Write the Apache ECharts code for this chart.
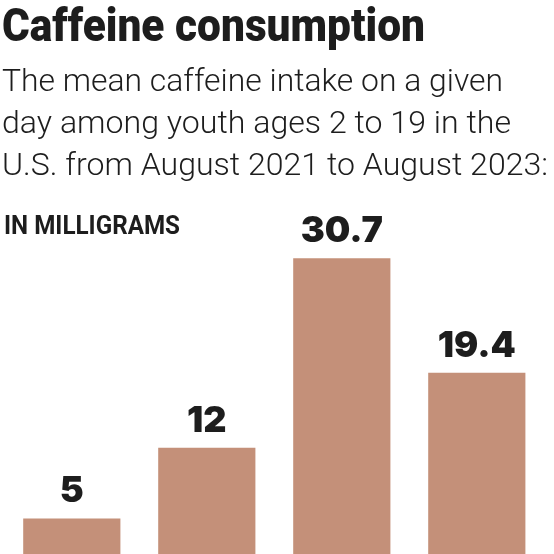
<!DOCTYPE html>
<html>
<head>
<meta charset="utf-8">
<script src="https://cdn.jsdelivr.net/npm/echarts@6/dist/echarts.min.js"></script>
<style>
  html, body { margin: 0; padding: 0; background: #fff; }
  #main { width: 554px; height: 554px; }
</style>
</head>
<body>
<div id="main"></div>
<script>
var titleText = 'Caffeine consumption';
var subtitleLines = [
  'The mean caffeine intake on a given',
  'day among youth ages 2 to 19 in the',
  'U.S. from August 2021 to August 2023:'
];
var unitText = 'IN MILLIGRAMS';
var categories = ['Group 1', 'Group 2', 'Group 3', 'Group 4'];
var intake = [5, 12, 30.7, 19.4];

var chartDom = document.getElementById('main');
var myChart = echarts.init(chartDom);

// squeeze the text horizontally to look like the condensed newspaper faces
var measureCtx = document.createElement('canvas').getContext('2d');
function fitScale(text, font, width) {
  measureCtx.font = font;
  return width / measureCtx.measureText(text).width;
}

function textEl(text, font, x, y, width) {
  return {
    type: 'text',
    x: x,
    y: y,
    scaleX: fitScale(text, font, width),
    style: {
      x: 0,
      y: 0,
      text: text,
      font: font,
      fill: '#1d1d1d',
      align: 'left',
      verticalAlign: 'middle',
      textAlign: 'left',
      textVerticalAlign: 'middle'
    }
  };
}

var titleFont = '900 46px Roboto';
var subFont = '300 32px Roboto';
var unitFont = 'bold 25px Roboto';

var graphics = [textEl(titleText, titleFont, 2, 29, 423)];
var subY = [83, 125, 166.5];
var subW = [501, 509, 546];
subtitleLines.forEach(function (line, i) {
  graphics.push(textEl(line, subFont, 2, subY[i], subW[i]));
});
graphics.push(textEl(unitText, unitFont, 4, 228, 176));

var option = {
  animation: false,
  graphic: { elements: graphics },
  grid: {
    left: 4.3,
    width: 540,
    top: 214.8,
    bottom: 0,
    containLabel: false
  },
  xAxis: {
    type: 'category',
    data: categories,
    show: false
  },
  // the picture is cropped just above the baseline, so the axis starts a bit above zero
  yAxis: {
    type: 'value',
    min: 1.5,
    max: 35,
    show: false,
    splitLine: { show: false }
  },
  series: [
    {
      type: 'bar',
      data: intake,
      barWidth: '72%',
      clip: true,
      itemStyle: { color: '#c49079' },
      label: {
        show: true,
        position: 'top',
        distance: 9,
        color: '#1d1d1d',
        fontFamily: 'Inter',
        fontWeight: 900,
        fontSize: 36
      }
    }
  ]
};

option && myChart.setOption(option);
</script>
</body>
</html>
